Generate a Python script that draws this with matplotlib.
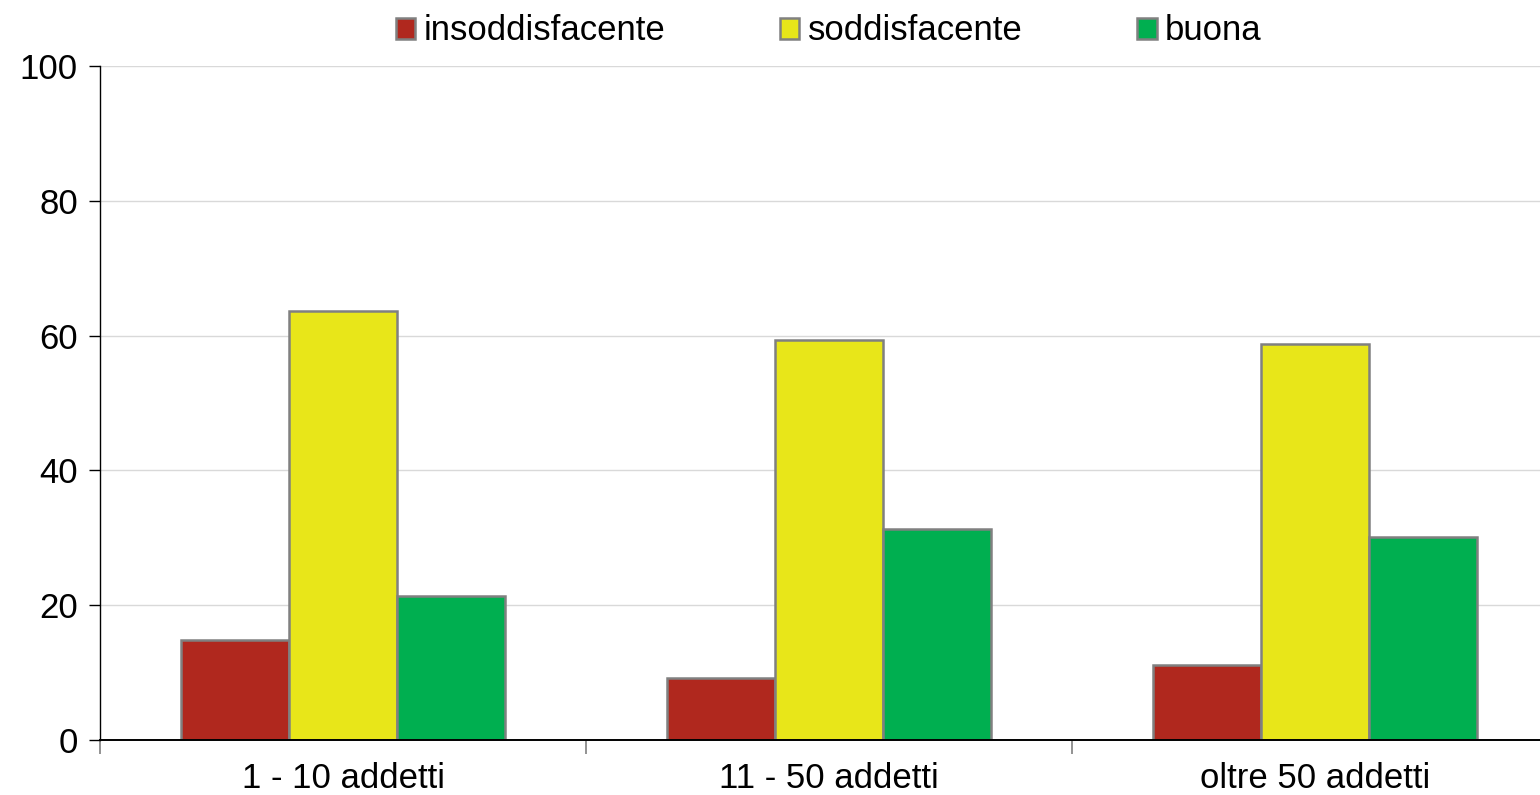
import matplotlib.pyplot as plt
import numpy as np
from matplotlib.ticker import FixedLocator

plt.rcParams['font.family'] = ['Liberation Sans', 'DejaVu Sans']

# dati
categorie = ['1 - 10 addetti', '11 - 50 addetti', 'oltre 50 addetti']
serie = ['insoddisfacente', 'soddisfacente', 'buona']
insoddisfacente = [14.8, 9.2, 11.1]
soddisfacente = [63.7, 59.4, 58.7]
buona = [21.4, 31.3, 30.1]
colori = ['#B0281E', '#E8E619', '#00AF50']

valori = [insoddisfacente, soddisfacente, buona]

fig = plt.figure(figsize=(15.4, 7.95), dpi=100, facecolor='white')
ax = fig.add_axes([100 / 1540, 55 / 795, 1458 / 1540, 674 / 795])

x = np.arange(len(categorie))
w = 0.222
for i, (nome, v) in enumerate(zip(serie, valori)):
    ax.bar(x + (i - 1) * w, v, width=w, color=colori[i], edgecolor='#808080',
           linewidth=1.8, label=nome, zorder=3)

ax.set_xlim(-0.5, len(categorie) - 0.5)
ax.set_ylim(0, 100)
ax.set_yticks(range(0, 101, 20))
ax.set_xticks(x)
ax.set_xticklabels(categorie)
ax.xaxis.set_minor_locator(FixedLocator(np.arange(-0.5, len(categorie), 1.0)))

ax.tick_params(axis='x', which='major', length=0, labelsize=25, pad=16)
ax.tick_params(axis='x', which='minor', length=10, width=1.2, color='#808080', direction='out')
ax.tick_params(axis='y', length=8, width=1, labelsize=25, pad=8)

ax.grid(axis='y', color='#D9D9D9', linewidth=1, zorder=0)
for s in ['top', 'right']:
    ax.spines[s].set_visible(False)
ax.spines['left'].set_linewidth(1)
ax.spines['bottom'].set_linewidth(1.4)
ax.spines['bottom'].set_zorder(4)

ax.legend(loc='center', bbox_to_anchor=(0.5, 1.052),
          ncol=3, frameon=False, fontsize=25, handlelength=0.55, handleheight=0.55,
          handletextpad=0.25, columnspacing=3.3, borderaxespad=0)

plt.savefig('out.png', dpi=100, facecolor='white')
